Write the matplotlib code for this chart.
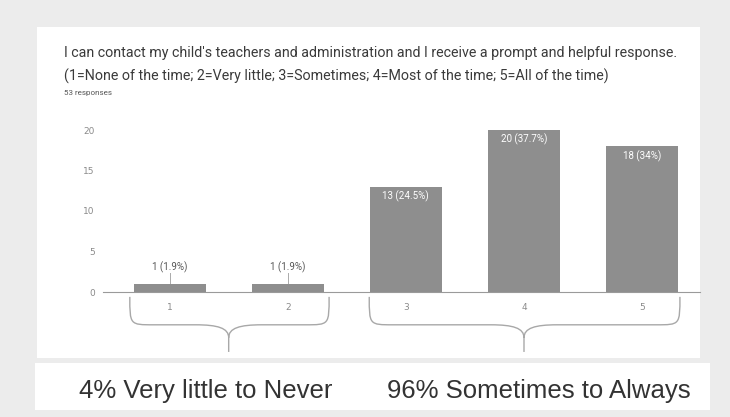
import numpy as np
import matplotlib.pyplot as plt
from matplotlib.path import Path
from matplotlib.patches import PathPatch, Rectangle

# Data
categories = ['1', '2', '3', '4', '5']
counts = [1, 1, 13, 20, 18]
yticks = [0, 5, 10, 15, 20]
title_1 = "I can contact my child's teachers and administration and I receive a prompt and helpful response."
title_2 = "(1=None of the time; 2=Very little; 3=Sometimes; 4=Most of the time; 5=All of the time)"
n_responses = "53 responses"
groups = [(['1', '2'], '4% Very little to Never'),
          (['3', '4', '5'], '96% Sometimes to Always')]

W, H = 730, 417
fig = plt.figure(figsize=(W / 100, H / 100), dpi=100)
fig.patch.set_facecolor('#ececec')


def box(x0, y0, x1, y1):
    # pixel box (top-left origin) -> figure fraction rect
    return [x0 / W, 1 - y1 / H, (x1 - x0) / W, (y1 - y0) / H]


# background panels
bg = fig.add_axes([0, 0, 1, 1])
bg.set_xlim(0, W)
bg.set_ylim(H, 0)
bg.axis('off')
bg.add_patch(Rectangle((37, 27), 663, 331, facecolor='white', edgecolor='none'))
bg.add_patch(Rectangle((35, 363), 675, 47, facecolor='white', edgecolor='none'))

bg.text(64, 53, title_1, fontsize=10.3, family='Roboto', color='#3a3a3a', va='center')
bg.text(64, 76, title_2, fontsize=10.3, family='Roboto', color='#3a3a3a', va='center')
bg.text(64, 93, n_responses, fontsize=5.8, family='Roboto', color='#555555', va='center')

# bar chart
ax = fig.add_axes(box(103, 130, 700, 292))
x = np.arange(1, len(categories) + 1)
ax.bar(x, counts, width=0.61, color='#8e8e8e', zorder=2)
ax.set_xlim(0.436, 5.49)
ax.set_ylim(0, 20)
ax.set_yticks(yticks)
ax.set_xticks(x)
ax.set_xticklabels(categories)
for s in ['top', 'right', 'left']:
    ax.spines[s].set_visible(False)
ax.spines['bottom'].set_color('#9a9a9a')
ax.tick_params(axis='both', length=0, labelsize=6.5, colors='#8a8a8a')
ax.tick_params(axis='y', pad=6)
ax.tick_params(axis='x', pad=8)
ax.patch.set_alpha(0)

total = sum(counts)
for xi, v in zip(x, counts):
    pct = 100 * v / total
    s = f'{pct:.1f}'.rstrip('0').rstrip('.')
    lab = f'{v} ({s}%)'
    if v < 3:
        ax.text(xi, v + 2.0, lab, ha='center', va='center', fontsize=7,
                family='Roboto', color='#555555')
        ax.plot([xi, xi], [v + 0.1, v + 1.3], color='#aaaaaa', lw=0.7)
    else:
        ax.text(xi, v - 1.2, lab, ha='center', va='center', fontsize=7,
                family='Roboto', color='white')


def brace(ax, xa, xb, xm, top=-0.6, bot=-4.05, tip=-7.4, r=0.2, m=0.28):
    verts = [(xa, top), (xa, bot), (xa, bot), (xa + r, bot),
             (xm - m, bot),
             (xm - m / 3, bot), (xm, bot - 0.4), (xm, bot - 1.6),
             (xm, tip),
             (xm, bot - 1.6),
             (xm, bot - 0.4), (xm + m / 3, bot), (xm + m, bot),
             (xb - r, bot),
             (xb, bot), (xb, bot), (xb, top)]
    codes = [Path.MOVETO, Path.CURVE4, Path.CURVE4, Path.CURVE4,
             Path.LINETO,
             Path.CURVE4, Path.CURVE4, Path.CURVE4,
             Path.LINETO,
             Path.MOVETO,
             Path.CURVE4, Path.CURVE4, Path.CURVE4,
             Path.LINETO,
             Path.CURVE4, Path.CURVE4, Path.CURVE4]
    ax.add_patch(PathPatch(Path(verts, codes), facecolor='none',
                           edgecolor='#a8a8a8', lw=1.0, clip_on=False))


# braces under each group and the summary labels
brace(ax, 0.663, 2.35, 1.5)
brace(ax, 2.69, 5.32, 4.0)
bg.text(206, 391, groups[0][1], fontsize=18.5, family='Liberation Sans',
        color='#333333', ha='center', va='center')
bg.text(539, 391, groups[1][1], fontsize=18.5, family='Liberation Sans',
        color='#333333', ha='center', va='center')

fig.savefig('out.png', dpi=100, facecolor=fig.get_facecolor())
